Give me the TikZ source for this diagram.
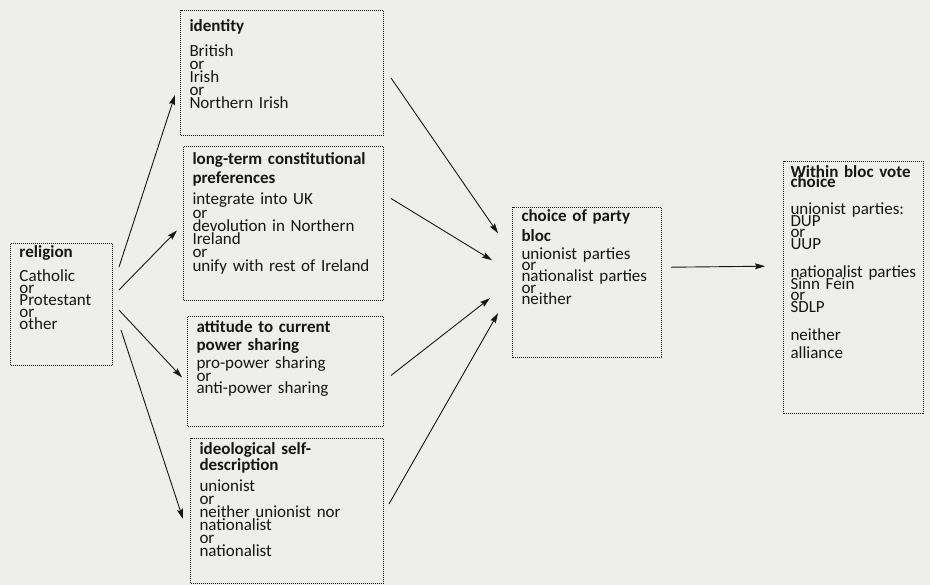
\documentclass[tikz,border=0pt]{standalone}
\usepackage{fontspec}
\setmainfont{Carlito}
\usetikzlibrary{arrows.meta}
\definecolor{pagebg}{RGB}{238,238,236}
\definecolor{ink}{RGB}{22,22,22}
\newcommand{\hd}[1]{\textbf{#1}}
\tikzset{
  pbox/.style={draw=ink, densely dotted, line width=1pt, anchor=north west,
    align=left, inner xsep=9pt, inner ysep=4pt, text=ink, lead=13,
    execute at begin node={\setlength{\lineskiplimit}{-40pt}}},
  lead/.style={font={\fontsize{17}{#1}\selectfont}},
  arr/.style={->, line width=0.9pt, draw=ink},
}

\begin{document}
\begin{tikzpicture}[x=1pt, y=-1pt, >={Stealth[length=10pt,width=6pt,inset=1.5pt]}]
  \fill[pagebg] (0,0) rectangle (930,585);
  \useasboundingbox (0,0) rectangle (930,585);
  % background factor
  \node[pbox, lead=11.9, inner ysep=2pt, text width=84pt, text depth=106pt] (religion) at (10,243)
    {\hd{religion}\\[12.5pt]Catholic\\or\\Protestant\\or\\other};
  % four attitudes
  \node[pbox, inner ysep=8.7pt, text width=185pt, text depth=95.6pt] (identity) at (180,10)
    {\hd{identity}\\[12.3pt]British\\or\\Irish\\or\\Northern Irish};
  \node[pbox, lead=13.3, inner ysep=5.6pt, text width=182pt, text depth=130.8pt] (longterm) at (183,146)
    {\hd{long-term constitutional}\\[6.1pt]\hd{preferences}\\[8pt]integrate into UK\\or\\devolution in Northern\\Ireland\\or\\unify with rest of Ireland};
  \node[pbox, lead=12.5, inner ysep=3.7pt, text width=178pt, text depth=90.6pt] (attitude) at (187,316)
    {\hd{attitude to current}\\[5.8pt]\hd{power sharing}\\[5.8pt]pro-power sharing\\or\\anti-power sharing};
  \node[pbox, lead=12.9, inner ysep=3.7pt, text width=175pt, text depth=125.6pt] (ideology) at (190,438)
    {\hd{ideological self-}\\[3.8pt]\hd{description}\\[8.1pt]unionist\\or\\neither unionist nor\\nationalist\\or\\nationalist};
  % outcomes
  \node[pbox, lead=11.1, inner ysep=2pt, text width=131pt, text depth=134.5pt] (bloc) at (512,207)
    {\hd{choice of party}\\[8.9pt]\hd{bloc}\\[7.2pt]unionist parties\\or\\nationalist parties\\or\\neither};
  \node[pbox, lead=11.5, inner xsep=7pt, inner ysep=4pt, text width=126pt, text depth=232.5pt] (within) at (783,161)
    {\hd{Within bloc vote}\\[-1.5pt]\hd{choice}\\[15.8pt]unionist parties:\\DUP\\or\\UUP\\[16.8pt]nationalist parties\\Sinn Fein\\or\\SDLP\\[16.8pt]neither\\[6.9pt]alliance};
  % religion to the attitudes
  \draw[arr] ([shift={(6,24)}]religion.north east) -- ([shift={(-5,22)}]identity.west);
  \draw[arr] ([shift={(6,47)}]religion.north east) -- ([shift={(-6,7)}]longterm.west);
  \draw[arr] ([shift={(6,67)}]religion.north east) -- ([shift={(-5,6)}]attitude.west);
  \draw[arr] ([shift={(8,87)}]religion.north east) -- ([shift={(-7,8)}]ideology.west);
  % attitudes to bloc choice
  \draw[arr] ([shift={(7,5)}]identity.east) -- ([shift={(-14,-49.5)}]bloc.west);
  \draw[arr] ([shift={(7,-25)}]longterm.east) -- ([shift={(-20,-22.5)}]bloc.west);
  \draw[arr] ([shift={(7,4)}]attitude.east) -- ([shift={(-22,15.5)}]bloc.west);
  \draw[arr] ([shift={(5,-7)}]ideology.east) -- ([shift={(-14,30.5)}]bloc.west);
  % bloc to within-bloc choice
  \draw[arr] ([shift={(9,-15.5)}]bloc.east) -- ([shift={(-18,-21.5)}]within.west);
\end{tikzpicture}
\end{document}
